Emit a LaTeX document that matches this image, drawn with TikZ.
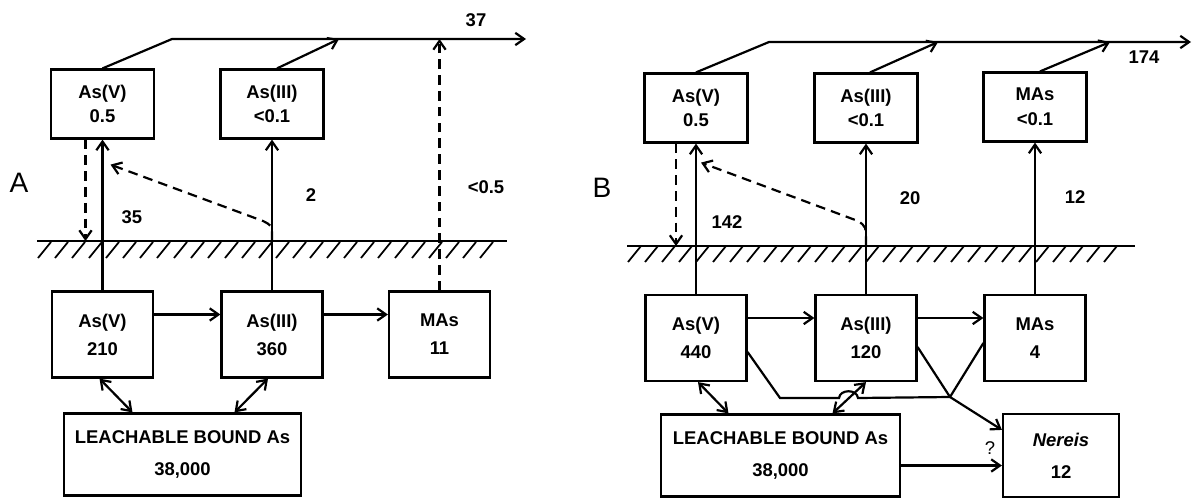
\documentclass[tikz,border=0pt]{standalone}
\usepackage{fontspec}
\setmainfont{Liberation Sans}
\usetikzlibrary{arrows.meta,positioning,calc}

\begin{document}
\begin{tikzpicture}[
      x=0.02cm, y=-0.02cm,
      box/.style={draw=black, line width=1.25pt, inner sep=0pt, align=center, font=\fontsize{10.5pt}{14pt}\selectfont\bfseries},
      upbox/.style={box, minimum width=2.06cm, minimum height=1.38cm},
      lowbox/.style={box, minimum width=2.02cm, minimum height=1.72cm, font=\fontsize{10.5pt}{16pt}\selectfont\bfseries},
      bigbox/.style={box, minimum width=4.74cm, minimum height=1.64cm, font=\fontsize{10.5pt}{18pt}\selectfont\bfseries},
      lbl/.style={font=\fontsize{10.5pt}{12pt}\selectfont\bfseries, inner sep=0pt},
      panel/.style={font=\fontsize{16pt}{18pt}\selectfont, inner sep=0pt},
      arr/.style={-{Straight Barb[length=5pt, width=7pt]}, line width=1.25pt},
      darr/.style={arr, dash pattern=on 5.5pt off 3.5pt},
      dbl/.style={{Straight Barb[length=5pt, width=7pt]}-{Straight Barb[length=5pt, width=7pt]}, line width=1.25pt},
      ln/.style={line width=1.25pt},
      hatch/.style={line width=1pt}
  ]
      \useasboundingbox (0,0) rectangle (1193,497);

      % PANEL A
      \node[panel] (pA) at (19,183) {A};

      \node[upbox] (uav) at (102.5,104) {As(V)\\0.5};
      \node[upbox] (uai) at (272,104) {As(III)\\<0.1};
      \node[lowbox] (lav) at (102.5,334.5) {As(V)\\210};
      \node[lowbox] (lai) at (272,334.5) {As(III)\\360};
      \node[lowbox] (lma) at (439.5,334.5) {MAs\\11};
      \node[bigbox] (lbA) at (182.5,454.5) {LEACHABLE BOUND As\\38,000};

      % sediment surface
      \coordinate (gA) at (37,241);
      \coordinate (gAe) at (507,241);
      \draw[ln] (gA) -- (gAe);
      \foreach \x in {38,55,...,490}
          \draw[hatch] (\x,258) -- ++(13,-16);

      % fluxes to water
      \coordinate (tA) at (172,39);
      \coordinate (tAe) at (526,39);
      \coordinate (jA) at (339,39);
      \draw[arr] (uav.north) -- (tA) -- (tAe);
      \draw[arr] ($(uai.north)+(5,0)$) -- (jA);
      \draw[darr] (lma.north) -- (lma.north |- tA);
      \node[lbl] (fA) at (476,20) {37};

      \draw[arr] (lav) -- (uav);
      \draw[arr] (lai) -- (uai);
      \coordinate (dA) at ($(uav.south)+(-17,0)$);
      \draw[darr] (dA) -- (dA |- gA);
      \coordinate (cA) at (lai.north |- gA);
      \draw[darr] (cA) -- ++(0,-8) .. controls +(0,-7) and +(8,4) .. ++(-9,-12) -- ($(uav.south)+(8,25)$);
      \node[lbl] (nA1) at (132,217) {35};
      \node[lbl] (nA2) at (311,195) {2};
      \node[lbl] (nA3) at (486,187) {<0.5};

      \draw[arr] ($(lav.east)+(0,-20)$) -- ($(lai.west)+(0,-20)$);
      \draw[arr] ($(lai.east)+(0,-20)$) -- ($(lma.west)+(0,-20)$);
      \draw[dbl] ($(lav.south)+(-3,0)$) -- ($(lbA.north)+(-50,0)$);
      \draw[dbl] ($(lai.south)+(-4,0)$) -- ($(lbA.north)+(52,0)$);

      % PANEL B
      \node[panel] (pB) at (602,188) {B};

      \node[upbox] (uvb) at (696,108) {As(V)\\0.5};
      \node[upbox] (uib) at (866,108) {As(III)\\<0.1};
      \node[upbox] (umb) at (1035,107) {MAs\\<0.1};
      \node[lowbox] (lvb) at (696,338) {As(V)\\440};
      \node[lowbox] (lib) at (866,338) {As(III)\\120};
      \node[lowbox] (lmb) at (1035,338) {MAs\\4};
      \node[bigbox, minimum width=4.78cm] (lbB) at (780.5,455.5) {LEACHABLE BOUND As\\38,000};
      \node[bigbox, minimum width=2.32cm, minimum height=1.66cm] (ner) at (1061,455.5) {\textit{Nereis}\\12};

      % sediment surface
      \coordinate (gB) at (627,246);
      \coordinate (gBe) at (1135,246);
      \draw[ln] (gB) -- (gBe);
      \foreach \x in {628,645,...,1120}
          \draw[hatch] (\x,262) -- ++(13,-16);

      % fluxes to water
      \coordinate (tB) at (769,42);
      \coordinate (tBe) at (1191,42);
      \coordinate (jB1) at (938,42);
      \coordinate (jB2) at (1110,42);
      \draw[arr] (uvb.north) -- (tB) -- (tBe);
      \draw[arr] ($(uib.north)+(4,0)$) -- (jB1);
      \draw[arr] ($(umb.north)+(5,0)$) -- (jB2);
      \node[lbl] (fB) at (1144,57) {174};

      \draw[arr] (lvb) -- (uvb);
      \draw[arr] (lib) -- (uib);
      \draw[arr] (lmb) -- (umb);
      \coordinate (dB) at ($(uvb.south)+(-20,0)$);
      \draw[darr] (dB) -- (dB |- gB);
      \coordinate (cB) at (lib.north |- gB);
      \draw[darr] (cB) -- ++(0,-9) .. controls +(0,-8) and +(8,5) .. ++(-8,-16) -- ($(uvb.south)+(5,19)$);
      \node[lbl] (nB1) at (727,222) {142};
      \node[lbl] (nB2) at (910,198) {20};
      \node[lbl] (nB3) at (1075,197) {12};

      \draw[arr] ($(lvb.east)+(0,-20)$) -- ($(lib.west)+(0,-20)$);
      \draw[arr] ($(lib.east)+(0,-20)$) -- ($(lmb.west)+(0,-20)$);
      \draw[dbl] ($(lvb.south)+(2,0)$) -- ($(lbB.north)+(-52,0)$);
      \draw[dbl] (lib.south) -- ($(lbB.north)+(52,0)$);

      % uptake by Nereis
      \coordinate (J) at (950,397);
      \draw[ln] ($(lvb.east)+(0,14)$) -- (780,398) -- (839,398) .. controls (840,389) and (857,389) .. (858,398) -- (J);
      \draw[ln] ($(lib.east)+(0,9)$) -- (J);
      \draw[ln] ($(lmb.west)+(0,5)$) -- (J);
      \draw[arr] (J) -- ($(ner.north west)+(0,17)$);
      \draw[arr] ($(lbB.east)+(0,10)$) -- ($(ner.west)+(0,10)$);
      \node[font=\fontsize{10.5pt}{12pt}\selectfont, inner sep=0pt] (q) at (990,448) {?};
  \end{tikzpicture}
\end{document}
